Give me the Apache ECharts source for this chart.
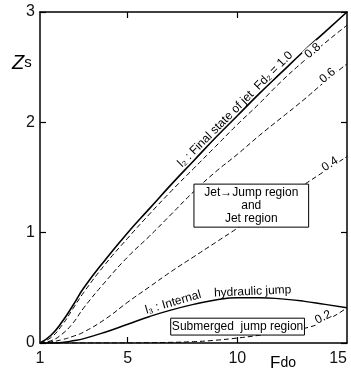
<!DOCTYPE html>
<html>
<head>
<meta charset="UTF-8">
<title>Zs - Fdo</title>
<script src="https://cdn.jsdelivr.net/npm/echarts@6/dist/echarts.min.js"></script>
<style>
  html, body { margin: 0; padding: 0; background: #fff; }
  #main { width: 351px; height: 370px; }
</style>
</head>
<body>
<div id="main"></div>
<script>
// Fdo (x axis)
var fdo = [1, 1.5, 2, 2.5, 3, 4, 5, 6, 7, 8, 9, 10, 11, 12, 13, 14, 15];
// Zs, Fd2 = 1.0 / 0.8 / 0.6 / 0.4 / 0.2
var zs10 = [0, 0.07, 0.19, 0.34, 0.5, 0.76, 1.0, 1.22, 1.44, 1.65, 1.86, 2.06, 2.26, 2.45, 2.64, 2.82, 3.0];
var zs08 = [0, 0.05, 0.16, 0.31, 0.46, 0.72, 0.95, 1.17, 1.38, 1.58, 1.78, 1.98, 2.17, 2.37, 2.55, 2.72, 2.88];
var zs06 = [0, 0.02, 0.08, 0.18, 0.32, 0.56, 0.78, 0.97, 1.17, 1.37, 1.55, 1.71, 1.88, 2.04, 2.2, 2.37, 2.53];
var zs04 = [0, 0.01, 0.03, 0.06, 0.1, 0.22, 0.37, 0.51, 0.65, 0.78, 0.91, 1.04, 1.17, 1.3, 1.43, 1.56, 1.69];
var zs02 = [0, 0, 0, 0, 0, 0, 0, 0.003, 0.006, 0.012, 0.025, 0.045, 0.07, 0.1, 0.13, 0.2, 0.32];
// l3 : internal hydraulic jump
var zsL3 = [0, 0, 0.005, 0.02, 0.04, 0.1, 0.17, 0.24, 0.3, 0.35, 0.39, 0.41, 0.41, 0.4, 0.38, 0.35, 0.32];

var xLabels = [1, 5, 10, 15];
var xTicks = [5, 10];
var yLabels = [0, 1, 2, 3];

function pairs(ys) {
  return fdo.map(function (f, i) { return [f, ys[i]]; });
}

var font = 'Liberation Sans';
var chart = echarts.init(document.getElementById('main'));

function curve(name, ys, dashed, width) {
  return {
    name: name,
    type: 'line',
    data: pairs(ys),
    symbol: 'none',
    smooth: 0.5,
    silent: true,
    lineStyle: { color: '#000', width: width, type: dashed ? [5, 3] : 'solid' },
    z: 2
  };
}

var tickLine = { color: '#000', width: 1.2 };
var axisLine = { show: true, onZero: false, lineStyle: { color: '#000', width: 1.5 } };

chart.setOption({
  animation: false,
  backgroundColor: '#fff',
  grid: { left: 40, right: 4, top: 12, bottom: 27 },
  xAxis: [{
    type: 'value', min: 1, max: 15, position: 'bottom',
    axisLine: axisLine,
    axisTick: { show: true, inside: true, length: 6, customValues: xTicks, lineStyle: tickLine },
    axisLabel: { customValues: xLabels, color: '#111', fontFamily: font, fontSize: 16, margin: 8, alignMaxLabel: 'right' },
    splitLine: { show: false }
  }, {
    type: 'value', min: 1, max: 15, position: 'top',
    axisLine: axisLine,
    axisTick: { show: true, inside: true, length: 6, customValues: xTicks, lineStyle: tickLine },
    axisLabel: { show: false },
    splitLine: { show: false }
  }],
  yAxis: [{
    type: 'value', min: 0, max: 3, interval: 1, position: 'left',
    axisLine: axisLine,
    axisTick: { show: true, inside: true, length: 6, lineStyle: tickLine },
    axisLabel: { customValues: yLabels, color: '#111', fontFamily: font, fontSize: 16, margin: 5 },
    splitLine: { show: false }
  }, {
    type: 'value', min: 0, max: 3, interval: 1, position: 'right',
    axisLine: axisLine,
    axisTick: { show: true, inside: true, length: 6, lineStyle: tickLine },
    axisLabel: { show: false },
    splitLine: { show: false }
  }],
  series: [
    curve('1.0', zs10, false, 1.6),
    curve('0.8', zs08, true, 1),
    curve('0.6', zs06, true, 1),
    curve('0.4', zs04, true, 1),
    curve('0.2', zs02, true, 1),
    curve('l3', zsL3, false, 1.4)
  ]
});

// annotations, placed in data coordinates
function px(f, z) {
  return chart.convertToPixel({ xAxisIndex: 0, yAxisIndex: 0 }, [f, z]);
}
function interp(ys, f) {
  for (var i = 0; i < fdo.length - 1; i++) {
    if (f >= fdo[i] && f <= fdo[i + 1]) {
      var t = (f - fdo[i]) / (fdo[i + 1] - fdo[i]);
      return ys[i] + t * (ys[i + 1] - ys[i]);
    }
  }
  return ys[ys.length - 1];
}
function angleOf(ys, f1, f2) {
  var a = px(f1, interp(ys, f1)), b = px(f2, interp(ys, f2));
  return Math.atan2(a[1] - b[1], b[0] - a[0]);
}

var g = [];

// text lying on a curve, starting at f
function alongCurve(text, ys, f, f1, f2, off, size) {
  var a = angleOf(ys, f1, f2);
  var p = px(f, interp(ys, f));
  g.push({
    type: 'text', x: p[0] - Math.sin(a) * off, y: p[1] - Math.cos(a) * off, rotation: a, z: 10,
    style: { text: text, font: size + 'px "' + font + '"', fill: '#000', align: 'left', verticalAlign: 'bottom' }
  });
}
alongCurve('l\u2082 : Final state of jet  Fd\u2082 = 1.0', zs10, 7.6, 7.5, 12.5, 1, 12);
alongCurve('l\u2083 : Internal', zsL3, 5.9, 5.5, 8, 1, 12);
alongCurve('hydraulic jump', zsL3, 8.95, 8.6, 11.8, 1, 12);

// small curve values, sitting in a gap of the dashed line
function valueLabel(text, ys, f, f1, f2, off) {
  var a = angleOf(ys, f1, f2);
  var p = px(f, interp(ys, f));
  g.push({
    type: 'text', x: p[0] - Math.sin(a) * off, y: p[1] - Math.cos(a) * off, rotation: a, z: 10,
    style: { text: text, font: '12px "' + font + '"', fill: '#000', align: 'center', verticalAlign: 'middle',
      backgroundColor: '#fff', padding: [0, 1] }
  });
}
valueLabel('0.8', zs08, 13.5, 12.5, 14.5, 2);
valueLabel('0.6', zs06, 14.2, 13, 15, 3);
valueLabel('0.4', zs04, 14.3, 13, 15, 3);
valueLabel('0.2', zs02, 14.0, 13.5, 14.8, 4);

// boxed region names
function box(lines, f1, z1, f2, z2) {
  var a = px(f1, z1), b = px(f2, z2);
  g.push({
    type: 'rect', z: 20,
    shape: { x: a[0], y: a[1], width: b[0] - a[0], height: b[1] - a[1] },
    style: { fill: '#fff', stroke: '#000', lineWidth: 1 }
  });
  g.push({
    type: 'text', z: 21, x: (a[0] + b[0]) / 2, y: (a[1] + b[1]) / 2,
    style: { text: lines.join('\n'), font: '12px "' + font + '"', fill: '#000', align: 'center', verticalAlign: 'middle', lineHeight: 13 }
  });
}
box(['Jet\u2192Jump region', 'and', 'Jet region'], 8.02, 1.44, 13.25, 1.05);
box(['Submerged  jump region'], 6.96, 0.225, 13.06, 0.072);

// axis names
g.push({
  type: 'text', left: 12, top: 53, z: 10,
  style: { text: '{a|Z}{b|s}', rich: { a: { font: 'italic 20px "' + font + '"', fill: '#000' }, b: { font: '15px "' + font + '"', fill: '#000' } } }
});
g.push({
  type: 'text', left: 270, top: 355, z: 10,
  style: { text: '{a|F}{b|do}', rich: { a: { font: '17px "' + font + '"', fill: '#000' }, b: { font: '14px "' + font + '"', fill: '#000' } } }
});

chart.setOption({ graphic: g });
</script>
</body>
</html>
